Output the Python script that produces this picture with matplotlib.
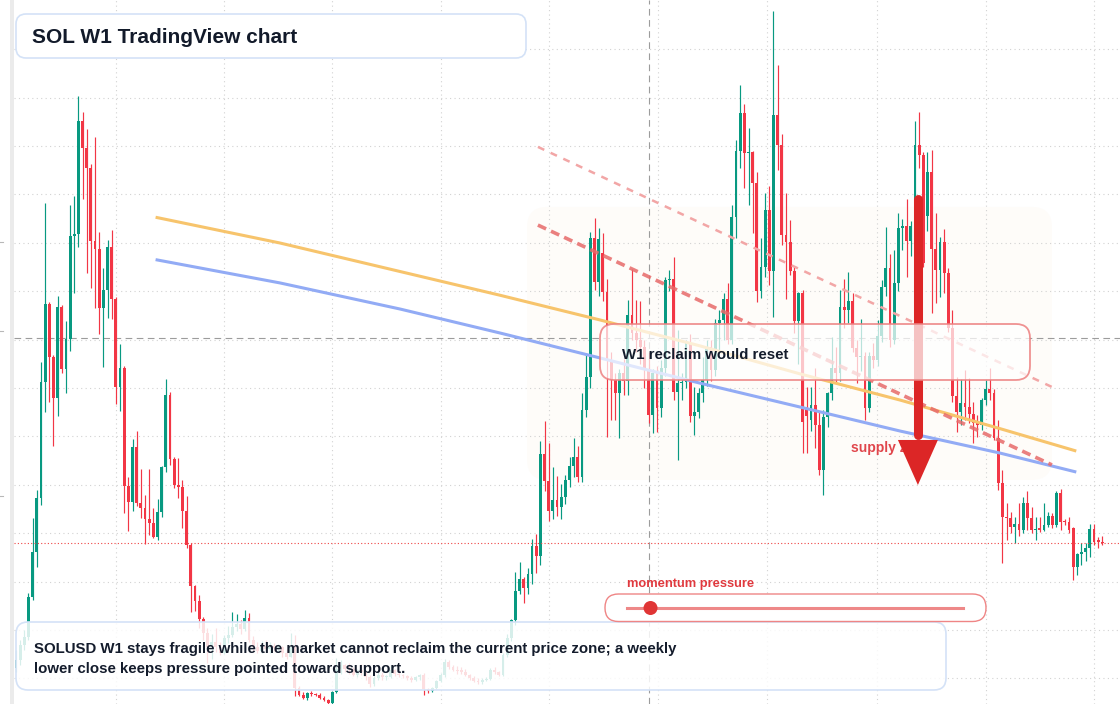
import matplotlib
matplotlib.use("Agg")
import matplotlib.pyplot as plt
import numpy as np
from matplotlib.patches import FancyBboxPatch, Polygon, Circle, Rectangle
from matplotlib.lines import Line2D
from matplotlib.transforms import IdentityTransform

plt.rcParams["font.family"] = ["Liberation Sans", "DejaVu Sans"]

W, H = 1120, 704

# weekly SOLUSD candles
opens = [
    24.3, 27.6, 33.8, 37.1, 53.6, 72.2, 94.5, 142.5, 174.7, 152.8,
    135.8, 173.4, 147.8, 160.2, 202.8, 203.6, 250.3, 239.1, 230.9, 200.7,
    197.4, 173.0, 180.5, 198.2, 176.7, 140.4, 148.2, 99.5, 92.9, 115.6,
    92.5, 90.4, 85.9, 84.2, 78.4, 88.7, 107.3, 137.1, 110.6, 99.9,
    99.1, 89.2, 75.1, 58.2, 52.0, 44.5, 38.7, 33.0, 35.0, 33.0,
    30.5, 36.7, 37.9, 41.2, 42.5, 40.4, 45.0, 35.9, 33.0, 31.5,
    33.5, 32.0, 33.5, 32.5, 33.0, 30.5, 29.0, 33.0, 16.0, 13.1,
    11.9, 13.9, 13.4, 13.0, 12.0, 11.2, 9.9, 14.4, 24.0, 25.5,
    24.0, 23.8, 21.4, 23.4, 22.5, 20.6, 17.5, 20.0, 21.5, 20.5,
    20.6, 23.4, 22.0, 21.5, 20.8, 20.0, 19.3, 20.5, 21.5, 15.5,
    14.8, 16.0, 19.0, 21.5, 26.8, 24.5, 23.5, 23.0, 22.8, 21.4,
    20.0, 19.0, 18.3, 19.2, 19.8, 23.5, 22.5, 21.4, 29.7, 36.5,
    44.0, 56.1, 61.0, 57.3, 63.1, 74.7, 70.6, 112.7, 101.5, 89.2,
    93.7, 90.8, 95.0, 102.0, 107.7, 111.5, 103.2, 130.9, 144.5, 202.0,
    183.8, 195.8, 179.6, 151.5, 143.3, 138.0, 146.2, 143.0, 170.1, 162.7,
    160.0, 157.0, 147.4, 128.8, 146.2, 131.7, 148.2, 184.6, 185.0, 138.3,
    142.0, 142.5, 158.6, 128.4, 130.1, 137.9, 143.3, 157.0, 147.4, 166.8,
    168.0, 176.7, 160.0, 210.6, 237.9, 253.6, 237.1, 237.5, 224.7, 180.1,
    190.0, 213.5, 188.3, 252.8, 240.4, 203.2, 200.3, 188.3, 167.7, 179.2,
    132.2, 126.8, 133.0, 124.7, 106.1, 128.0, 137.9, 148.2, 146.0, 173.4,
    172.0, 175.9, 156.7, 152.8, 153.2, 131.7, 153.2, 151.5, 161.5, 181.7,
    189.6, 160.0, 183.4, 206.0, 206.9, 200.8, 206.9, 240.4, 236.3, 211.1,
    229.2, 197.4, 188.9, 200.3, 187.5, 164.8, 136.7, 130.2, 133.8, 132.1,
    129.2, 125.5, 124.7, 135.0, 139.6, 137.9, 119.3, 100.7, 86.7, 86.1,
    82.7, 83.8, 81.3, 92.3, 86.1, 81.3, 82.0, 81.3, 83.4, 87.1,
    83.4, 96.7, 85.1, 84.7, 82.0, 66.1, 71.4, 72.3, 73.7, 81.6,
    77.2, 76.5,
]
highs = [
    31.7, 35.9, 40.0, 55.3, 86.3, 97.8, 150.7, 216.4, 175.5, 153.6,
    178.0, 174.3, 167.7, 215.6, 219.3, 260.6, 254.0, 247.0, 232.5, 243.7,
    204.4, 189.6, 201.1, 205.3, 177.6, 158.2, 149.1, 103.2, 118.9, 122.2,
    106.5, 95.8, 106.5, 90.4, 94.1, 107.7, 143.7, 138.3, 111.5, 111.1,
    102.0, 95.4, 75.9, 58.6, 54.4, 45.4, 41.0, 38.5, 41.0, 35.0,
    38.0, 41.5, 47.4, 46.6, 44.0, 48.2, 47.0, 37.5, 35.0, 35.5,
    36.0, 35.0, 34.5, 34.0, 33.5, 32.0, 38.7, 38.0, 17.0, 14.5,
    14.5, 14.6, 14.0, 13.8, 12.5, 11.6, 14.8, 28.5, 27.5, 26.0,
    26.5, 24.5, 24.0, 26.0, 23.0, 21.4, 21.0, 22.5, 22.5, 21.5,
    25.5, 24.0, 23.0, 22.0, 21.5, 21.0, 21.0, 22.0, 22.2, 16.0,
    16.5, 19.5, 22.2, 28.0, 27.6, 25.5, 25.0, 24.5, 23.9, 22.0,
    21.0, 20.1, 20.0, 20.5, 24.3, 24.5, 23.0, 30.5, 38.5, 44.5,
    63.9, 68.1, 62.0, 65.6, 77.6, 79.7, 118.1, 126.3, 117.2, 107.3,
    103.6, 100.5, 104.0, 111.5, 119.3, 116.0, 137.9, 154.4, 204.4, 210.2,
    206.0, 204.0, 185.0, 155.0, 146.0, 148.0, 152.0, 176.3, 189.1, 176.3,
    175.9, 160.0, 154.9, 148.0, 149.0, 151.5, 185.8, 188.7, 194.1, 164.0,
    146.0, 160.0, 162.3, 140.3, 140.0, 152.8, 160.0, 160.0, 168.5, 172.0,
    179.2, 183.4, 215.6, 242.5, 265.2, 257.3, 247.4, 237.9, 229.2, 202.0,
    220.6, 223.4, 295.8, 273.4, 244.9, 220.6, 209.4, 190.0, 179.6, 180.5,
    140.3, 140.3, 148.2, 130.0, 131.0, 138.5, 161.0, 157.0, 180.5, 185.0,
    187.9, 179.2, 160.0, 168.5, 155.0, 154.9, 158.6, 168.1, 184.6, 206.4,
    195.3, 197.0, 212.1, 210.0, 218.0, 209.0, 250.4, 254.0, 237.5, 237.5,
    238.3, 212.1, 202.4, 205.7, 189.6, 172.2, 144.5, 143.7, 147.4, 144.1,
    134.2, 128.8, 136.0, 143.3, 148.2, 139.5, 126.8, 106.1, 92.3, 88.9,
    86.8, 92.3, 95.1, 97.6, 90.9, 86.8, 86.8, 92.3, 88.9, 88.5,
    97.6, 98.1, 86.0, 86.8, 82.5, 72.0, 75.8, 75.8, 83.8, 83.8,
    78.5, 78.9,
]
lows = [
    22.6, 25.5, 31.7, 35.9, 52.4, 66.0, 91.6, 130.1, 134.2, 116.0,
    128.4, 146.2, 137.9, 155.3, 179.2, 198.2, 218.1, 187.5, 181.3, 173.0,
    162.3, 148.6, 168.9, 168.5, 133.4, 130.5, 88.3, 80.9, 89.2, 91.2,
    86.3, 75.5, 79.2, 78.0, 77.2, 86.7, 105.3, 108.2, 98.7, 94.5,
    82.1, 73.9, 47.4, 47.8, 40.8, 35.9, 26.3, 28.0, 31.0, 29.5,
    30.0, 34.6, 37.0, 39.5, 38.5, 39.5, 35.0, 31.5, 30.5, 30.5,
    31.0, 30.5, 31.5, 31.0, 29.0, 28.0, 28.8, 12.5, 12.5, 11.3,
    11.1, 12.8, 12.5, 11.5, 10.6, 9.3, 9.5, 14.0, 22.0, 22.5,
    22.0, 20.8, 20.5, 21.5, 19.5, 16.4, 17.0, 19.5, 19.5, 19.2,
    20.0, 21.0, 20.5, 20.0, 19.2, 18.5, 18.8, 19.5, 13.1, 14.0,
    14.5, 15.5, 18.5, 20.6, 24.0, 23.0, 22.0, 22.0, 20.8, 19.5,
    18.5, 17.5, 17.8, 18.8, 19.3, 21.8, 20.8, 21.0, 28.8, 35.5,
    42.0, 55.0, 51.1, 55.0, 59.0, 63.5, 66.8, 97.4, 85.0, 85.9,
    87.1, 86.0, 92.0, 99.0, 103.2, 101.0, 101.0, 128.0, 140.0, 180.5,
    178.0, 176.0, 119.8, 126.8, 126.8, 119.3, 137.0, 137.0, 160.0, 155.0,
    150.0, 140.0, 125.5, 121.4, 121.8, 128.0, 145.0, 180.0, 135.0, 110.2,
    135.0, 140.0, 126.0, 120.6, 127.6, 134.0, 141.0, 143.0, 145.0, 155.7,
    160.0, 158.0, 158.0, 202.0, 230.9, 222.6, 215.6, 204.0, 175.5, 177.2,
    185.8, 182.5, 169.3, 230.1, 199.1, 176.7, 186.7, 162.7, 150.0, 113.1,
    113.1, 122.2, 115.0, 104.0, 95.8, 123.9, 135.0, 142.0, 143.0, 164.8,
    167.0, 155.0, 142.0, 147.0, 126.8, 130.0, 148.2, 149.0, 159.0, 178.0,
    157.0, 158.0, 180.0, 197.0, 186.0, 194.5, 204.0, 230.9, 190.0, 204.8,
    171.0, 175.1, 177.6, 179.2, 163.0, 134.3, 121.8, 124.7, 126.8, 125.5,
    117.3, 119.7, 122.6, 133.0, 135.0, 118.5, 97.8, 67.5, 77.2, 79.9,
    75.8, 79.0, 80.0, 81.3, 80.0, 77.2, 80.5, 81.0, 82.5, 82.0,
    82.5, 81.3, 83.5, 79.9, 60.6, 62.7, 66.9, 68.5, 70.3, 75.1,
    73.7, 75.1,
]
closes = [
    27.6, 33.8, 37.1, 53.6, 72.2, 94.5, 142.5, 174.7, 152.8, 135.8,
    173.4, 147.8, 160.2, 202.8, 203.6, 250.3, 239.1, 230.9, 200.7, 197.4,
    173.0, 180.5, 198.2, 176.7, 140.4, 148.2, 99.5, 92.9, 115.6, 92.5,
    90.4, 85.9, 84.2, 78.4, 88.7, 107.3, 137.1, 110.6, 99.9, 99.1,
    89.2, 75.1, 58.2, 52.0, 44.5, 38.7, 33.0, 35.0, 33.0, 30.5,
    36.7, 37.9, 41.2, 42.5, 40.4, 45.0, 35.9, 33.0, 31.5, 33.5,
    32.0, 33.5, 32.5, 33.0, 30.5, 29.0, 33.0, 16.0, 13.1, 11.9,
    13.9, 13.4, 13.0, 12.0, 11.2, 9.9, 14.4, 24.0, 25.5, 24.0,
    23.8, 21.4, 23.4, 22.5, 20.6, 17.5, 20.0, 21.5, 20.5, 20.6,
    23.4, 22.0, 21.5, 20.8, 20.0, 19.3, 20.5, 21.5, 15.5, 14.8,
    16.0, 19.0, 21.5, 26.8, 24.5, 23.5, 23.0, 22.8, 21.4, 20.0,
    19.0, 18.3, 19.2, 19.8, 23.5, 22.5, 21.4, 29.7, 36.5, 44.0,
    56.1, 61.0, 57.3, 63.1, 74.7, 70.6, 112.7, 101.5, 89.2, 93.7,
    90.8, 95.0, 102.0, 107.7, 111.5, 103.2, 130.9, 144.5, 202.0, 183.8,
    201.5, 179.6, 151.5, 143.3, 138.0, 146.2, 143.0, 170.1, 162.7, 160.0,
    157.0, 147.4, 128.8, 146.2, 131.7, 148.2, 184.6, 185.0, 138.3, 142.0,
    142.5, 158.6, 128.4, 130.1, 137.9, 143.3, 157.0, 147.4, 166.8, 168.0,
    176.7, 160.0, 210.6, 237.9, 253.6, 237.1, 237.5, 224.7, 180.1, 190.0,
    213.5, 188.3, 252.8, 240.4, 203.2, 200.3, 188.3, 167.7, 179.2, 125.9,
    128.4, 133.0, 124.7, 106.1, 128.0, 137.9, 148.2, 146.0, 173.4, 172.0,
    175.9, 156.7, 152.8, 153.2, 131.7, 153.2, 151.5, 161.5, 181.7, 189.6,
    160.0, 183.4, 206.0, 206.9, 200.8, 206.9, 240.4, 236.3, 191.6, 229.2,
    197.4, 188.9, 200.3, 187.5, 164.8, 136.7, 130.2, 133.8, 132.1, 129.2,
    125.5, 124.7, 135.0, 139.6, 137.9, 119.3, 100.7, 86.7, 86.1, 82.7,
    83.8, 81.3, 92.3, 86.1, 81.3, 81.6, 81.3, 83.4, 87.1, 83.4,
    96.7, 84.7, 84.7, 81.3, 66.1, 71.4, 72.3, 73.7, 81.6, 76.5,
    76.5, 75.8,
]

# overlay drawings (week index, price)
ma_weeks = [33.9, 63.4, 92.3, 116.3, 140.3, 164.3, 188.4, 212.4, 236.4, 254.4]
ma_slow = [210.4, 199.9, 188.1, 178.3, 168.1, 157.4, 145.8, 135.0, 123.2, 114.1]
ma_fast = [192.9, 183.4, 172.6, 162.7, 152.4, 142.0, 132.1, 122.2, 113.1, 105.4]
trend_weeks = [125.4, 248.9]
trend_upper = [239.6, 140.4]
trend_lower = [207.3, 108.2]
zone_weeks = (122.8, 248.9)
zone_prices = (102.0, 214.8)
arrow_week = 216.7
arrow_from, arrow_head, arrow_to = 218.0, 118.5, 99.9
crosshair_week, crosshair_price = 152.1, 160.6
time_grid = [24.0, 50.0, 75.9, 102.1, 128.1, 154.3, 180.4, 206.9, 233.1, 259.0]
momentum_level = 0.07

GREEN = "#089981"
RED = "#f23645"

fig = plt.figure(figsize=(W / 100, H / 100), dpi=100, facecolor="white")
ax = fig.add_axes([14 / W, 0, 1 - 14 / W, 1])
ax.set_xlim(-0.48, 265.26)
ax.set_ylim(9.4, 300.3)
for s in ax.spines.values():
    s.set_visible(False)
ax.set_yticks(np.arange(20, 300, 20))
ax.set_xticks(time_grid)
ax.tick_params(length=0, labelleft=False, labelbottom=False)
ax.grid(True, color="#d2d2d2", linewidth=0.8, linestyle=(0, (1, 3)))
ax.set_axisbelow(True)

# faint zone behind price
zone = FancyBboxPatch((zone_weeks[0], zone_prices[0]), zone_weeks[1] - zone_weeks[0],
                      zone_prices[1] - zone_prices[0],
                      boxstyle="round,pad=0,rounding_size=4.8", mutation_aspect=4.162 / 2.42,
                      facecolor="#fefcf9", edgecolor="none", zorder=0.2)
ax.add_patch(zone)

# crosshair and last price
ax.axvline(crosshair_week, color="#9c9c9c", lw=0.8, ls=(0, (6, 4)), zorder=2)
ax.axhline(crosshair_price, color="#9c9c9c", lw=0.8, ls=(0, (6, 4)), zorder=2)

# candles
weeks = np.arange(len(closes))
o = np.array(opens)
hi = np.array(highs)
lo = np.array(lows)
c = np.array(closes)
colors = np.where(c >= o, GREEN, RED)
ax.vlines(weeks, lo, hi, colors=colors, linewidth=0.85, zorder=3)
body_lo = np.minimum(o, c)
body_h = np.maximum(np.abs(c - o), 0.45)
ax.bar(weeks, body_h, bottom=body_lo, width=0.68, color=colors, linewidth=0, zorder=4)

ax.axhline(closes[-1], color="#f04444", lw=0.8, ls=(0, (1, 2)), zorder=4.5)

# moving averages and trend lines
ax.plot(ma_weeks, ma_slow, color="#f7c46c", lw=2.2, zorder=5)
ax.plot(ma_weeks, ma_fast, color="#92abf5", lw=2.2, zorder=5)
ax.plot(trend_weeks, trend_upper, color="#f2a6a6", lw=1.8, ls=(0, (2.8, 2.8)), zorder=5)
ax.plot(trend_weeks, trend_lower, color="#e76a6a", lw=2.6, ls=(0, (2.5, 1.5)), alpha=0.85, zorder=5)

ax.text(200.6, 113.4, "supply zone", color="#e0464c", fontsize=10, fontweight="bold",
        va="baseline", ha="left", zorder=6)

# big down arrow
ax.plot([arrow_week, arrow_week], [arrow_from, arrow_head + 2], color="#dc2626", lw=6.5,
        solid_capstyle="round", zorder=7)
ax.add_patch(Polygon([[arrow_week - 4.8, arrow_head], [arrow_week + 4.8, arrow_head],
                      [arrow_week, arrow_to]], closed=True, facecolor="#dc2626",
                     edgecolor="none", zorder=7))


def px_box(x0, y0, x1, y1, r, **kw):
    patch = FancyBboxPatch((x0, H - y1), x1 - x0, y1 - y0,
                           boxstyle=f"round,pad=0,rounding_size={r}",
                           transform=IdentityTransform(), **kw)
    fig.add_artist(patch)


def px_text(x, y, s, **kw):
    fig.text(x / W, 1 - y / H, s, va="baseline", ha="left", fontweight="bold", zorder=8, **kw)


# left edge strip
fig.add_artist(Rectangle((10, 0), 4, H, transform=IdentityTransform(),
                         facecolor="#ebebeb", edgecolor="none", zorder=1))
for ty in (242, 331, 496):
    fig.add_artist(Line2D([0, 3], [H - ty, H - ty], transform=IdentityTransform(),
                          color="#b8b8b8", lw=0.8, zorder=1))

# annotation boxes
px_box(600, 324, 1030, 380, 14, facecolor=(1, 1, 1, 0.72),
       edgecolor=(0.93, 0.5, 0.5, 0.85), linewidth=1.3, zorder=5)
px_text(622, 359, "W1 reclaim would reset", fontsize=10.8, color="#141c2c")

px_box(16, 14, 526, 58, 10, facecolor="white", edgecolor="#d4e2f7", linewidth=1.2, zorder=5)
px_text(32, 43.3, "SOL W1 TradingView chart", fontsize=15, color="#121a2a")

px_box(16, 622, 946, 690, 12, facecolor=(1, 1, 1, 0.84), edgecolor="#d4e2f7",
       linewidth=1.2, zorder=5)
px_text(33.5, 653.3, "SOLUSD W1 stays fragile while the market cannot reclaim the current "
        "price zone; a weekly", fontsize=10.8, color="#141c2c")
px_text(33.5, 673.3, "lower close keeps pressure pointed toward support.", fontsize=10.8,
        color="#141c2c")

# momentum slider
px_text(627, 586.7, "momentum pressure", fontsize=9.3, color="#e0393e")
px_box(605, 594, 986, 621.5, 13.5, facecolor="white", edgecolor="#ef8585", linewidth=1.0,
       zorder=5)
track_x0, track_x1 = 627, 963
fig.add_artist(Line2D([track_x0, track_x1], [H - 608, H - 608], transform=IdentityTransform(),
                      color="#ee8888", lw=2.2, zorder=6))
dot_x = track_x0 + momentum_level * (track_x1 - track_x0)
fig.add_artist(Circle((dot_x, H - 608), 7, transform=IdentityTransform(),
                      facecolor="#e03535", edgecolor="none", zorder=7))

fig.savefig("out.png", dpi=100, facecolor="white")
